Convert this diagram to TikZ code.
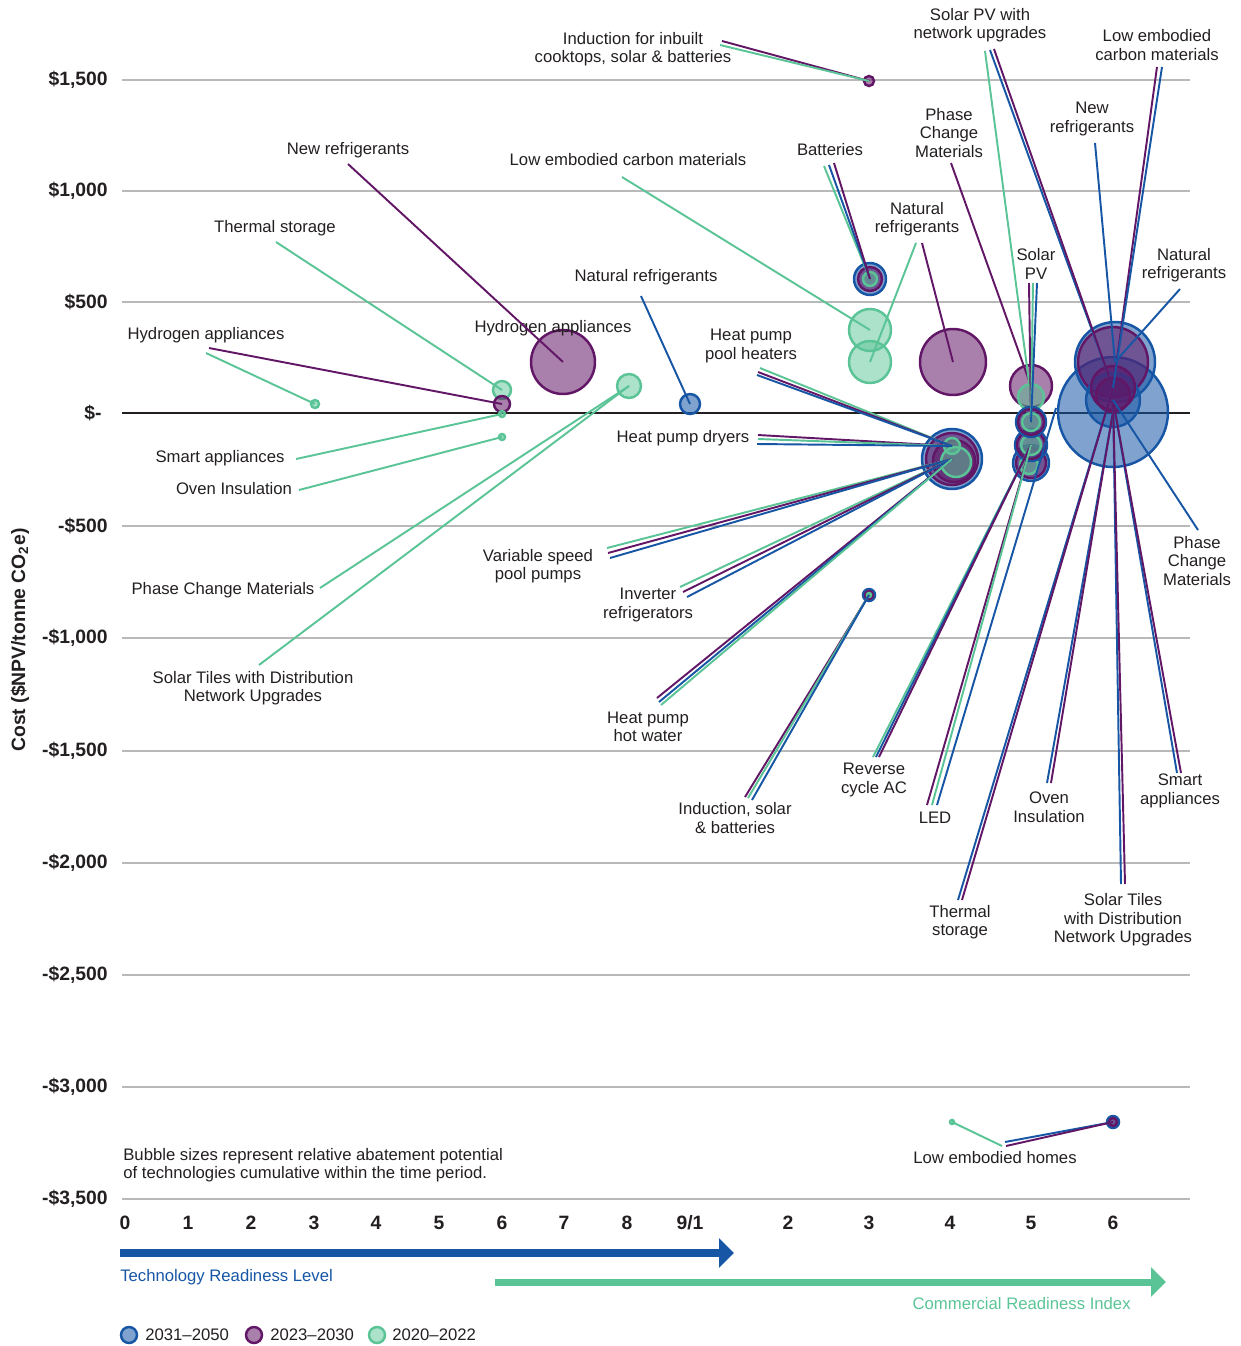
\documentclass[tikz,border=0pt]{standalone}
\usepackage{fontspec}
\setmainfont{Liberation Sans}
\usetikzlibrary{arrows.meta}
\definecolor{blueO}{RGB}{22,86,165}
\definecolor{purpO}{RGB}{98,22,102}
\definecolor{greenO}{RGB}{90,196,150}
\definecolor{gridgrey}{RGB}{185,185,185}
\definecolor{txtgrey}{RGB}{35,31,32}
\tikzset{
  bubA/.style={circle, draw=blueO, fill=blueO, fill opacity=0.55, line width=1.4pt, inner sep=0pt, minimum size=#1*0.04cm},
  bubB/.style={circle, draw=purpO, fill=purpO, fill opacity=0.55, line width=1.4pt, inner sep=0pt, minimum size=#1*0.04cm},
  bubC/.style={circle, draw=greenO, fill=greenO, fill opacity=0.5, line width=1.4pt, inner sep=0pt, minimum size=#1*0.04cm},
  lnA/.style={draw=blueO, line width=1.1pt},
  lnB/.style={draw=purpO, line width=1.1pt},
  lnC/.style={draw=greenO, line width=1.1pt},
  lab/.style={font=\fontsize{9.5}{10.6}\selectfont, text=txtgrey, align=center, inner sep=0pt},
  ticklab/.style={font=\fontsize{11}{12}\selectfont\bfseries, text=txtgrey, inner sep=0pt},
  gridln/.style={draw=gridgrey, line width=0.8pt},
  readarrow/.style={line width=4.4pt, -{Triangle[length=0.3cm, width=0.58cm]}},
}

\begin{document}
\begin{tikzpicture}[x=0.02cm, y=-0.02cm]
  \useasboundingbox (0,0) rectangle (1241,1346);

  % grid and axes
  \foreach \y/\t in {80/{\$1,500}, 191/{\$1,000}, 302/{\$500}, 526/{-\$500}, 638/{-\$1,000},
                     751/{-\$1,500}, 863/{-\$2,000}, 975/{-\$2,500}, 1087/{-\$3,000}, 1199/{-\$3,500}} {
    \draw[gridln] (122,\y) -- (1190,\y);
    \node[ticklab, anchor=east] at (108,\y) {\t};
  }
  \coordinate (zl) at (122,413);
  \coordinate (zr) at (1190,413);
  \draw[line width=0.9pt, txtgrey] (zl) -- (zr);
  \node[ticklab, anchor=east] (zero) at (102,413) {\$-};
  \node[ticklab, rotate=90] (ytitle) at (20,640) {Cost (\$NPV/tonne CO\textsubscript{2}e)};

  \foreach \x/\t in {125/0, 188/1, 251/2, 314/3, 376/4, 439/5, 502/6, 564/7, 627/8, 690/{9/1},
                     788/2, 869/3, 950/4, 1031/5, 1113/6}
    \node[ticklab] at (\x,1223) {\t};

  % readiness arrows
  \coordinate (trl0) at (120,1253);
  \coordinate (trl1) at (734,1253);
  \coordinate (cri0) at (495,1282);
  \coordinate (cri1) at (1166,1282);
  \draw[readarrow, blueO] (trl0) -- (trl1);
  \draw[readarrow, greenO, line width=4pt] (cri0) -- (cri1);
  \node[lab, text=blueO, anchor=west] (trl) at (120,1277) {Technology Readiness Level};
  \node[lab, text=greenO, anchor=east] (cri) at (1131,1304) {Commercial Readiness Index};

  % legend
  \node[bubA=8] (legA) at (129,1335) {};
  \node[lab, anchor=west] at (145,1335) {2031–2050};
  \node[bubB=8] (legB) at (254,1335) {};
  \node[lab, anchor=west] at (270,1335) {2023–2030};
  \node[bubC=8] (legC) at (377,1335) {};
  \node[lab, anchor=west] at (392,1335) {2020–2022};

  \node[lab, align=left, anchor=west] (note) at (123,1165)
    {Bubble sizes represent relative abatement potential\\of technologies cumulative within the time period.};

  % bubbles
  \node[bubB=5] (indtop) at (869,81) {};
  \node[bubA=16] (batA) at (870,279) {};
  \node[bubB=12] (batB) at (870,279) {};
  \node[bubC=7] (batC) at (870,279) {};
  \node[bubC=21] (lecmC) at (870,330) {};
  \node[bubC=21] (natrC) at (870,362) {};
  \node[bubB=33] (natrB) at (953,362) {};
  \node[bubB=32] (newrB) at (563,362) {};
  \node[bubC=12] (pcmC) at (629,386) {};
  \node[bubA=10] (natrA) at (690,404) {};
  \node[bubC=9] (therC) at (502,390) {};
  \node[bubB=8] (hydB) at (502,404) {};
  \node[bubC=3] (smartC) at (502,414) {};
  \node[bubC=3] (ovenC) at (502,437) {};
  \node[bubC=4] (hydC) at (315,404) {};

  \node[bubA=30] (hpA) at (952,459) {};
  \node[bubB=26] (hpB) at (952,459) {};
  \node[bubB=21] (hpB2) at (954,461) {};
  \node[bubC=15] (hpC) at (956,462) {};
  \node[bubC=8] (hpC2) at (952,446) {};

  \node[bubB=21] (pcmB) at (1031,386) {};
  \node[bubC=13] (spvC) at (1031,397) {};
  \node[bubA=18] (c5A3) at (1031,463) {};
  \node[bubB=15] (c5B3) at (1031,463) {};
  \node[bubC=9] (c5C3) at (1029,465) {};
  \node[bubA=16] (c5A2) at (1031,445) {};
  \node[bubB=14] (c5B2) at (1031,445) {};
  \node[bubC=10] (c5C2) at (1031,445) {};
  \node[bubA=15] (c5A1) at (1031,422) {};
  \node[bubB=13] (c5B1) at (1031,422) {};
  \node[bubC=9] (c5C1) at (1031,422) {};

  \node[bubA=55] (stileA) at (1113,412) {};
  \node[bubA=40] (c6A1) at (1115,362) {};
  \node[bubB=35] (c6B1) at (1113,362) {};
  \node[bubA=27] (c6A2) at (1113,400) {};
  \node[bubB=22] (c6B2) at (1113,388) {};
  \node[bubB=17] (c6B3) at (1113,395) {};

  \node[bubA=6] (isbA) at (869,595) {};
  \node[bubB=4] (isbB) at (869,595) {};
  \node[bubC=2] (isbC) at (869,595) {};

  \node[bubA=6] (lehA) at (1113,1122) {};
  \node[bubB=4] (lehB) at (1113,1122) {};
  \node[bubC=2] (lehC) at (952,1122) {};
  \coordinate (ledend) at (1056,408);

  % labels
  \node[lab] (indlab) at (633,49) {Induction for inbuilt\\cooktops, solar \& batteries};
  \node[lab] (newrl) at (348,150) {New refrigerants};
  \node[lab] (lecml) at (628,160) {Low embodied carbon materials};
  \node[lab] (therl) at (275,228) {Thermal storage};
  \node[lab] (natrm) at (646,277) {Natural refrigerants};
  \node[lab] (hydl) at (206,335) {Hydrogen appliances};
  \node[lab] (hydm) at (553,328) {Hydrogen appliances};
  \node[lab] (smartl) at (220,458) {Smart appliances};
  \node[lab] (ovenl) at (234,489) {Oven Insulation};
  \node[lab] (pcml) at (223,590) {Phase Change Materials};
  \node[lab] (stilel) at (253,688) {Solar Tiles with Distribution\\Network Upgrades};
  \node[lab] (batl) at (830,150) {Batteries};
  \node[lab] (natrt) at (917,219) {Natural\\refrigerants};
  \node[lab] (pcmt) at (949,133) {Phase\\Change\\Materials};
  \node[lab] (spvn) at (980,25) {Solar PV with\\network upgrades};
  \node[lab] (lecmr) at (1157,45) {Low embodied\\carbon materials};
  \node[lab] (newrr) at (1092,119) {New\\refrigerants};
  \node[lab] (spvl) at (1036,264) {Solar\\PV};
  \node[lab] (natrr) at (1184,265) {Natural\\refrigerants};
  \node[lab] (hpph) at (751,346) {Heat pump\\pool heaters};
  \node[lab] (hpd) at (683,438) {Heat pump dryers};
  \node[lab] (vsp) at (538,566) {Variable speed\\pool pumps};
  \node[lab] (inv) at (648,605) {Inverter\\refrigerators};
  \node[lab] (hphw) at (648,727) {Heat pump\\hot water};
  \node[lab] (isb) at (735,818) {Induction, solar\\\& batteries};
  \node[lab] (rcac) at (874,780) {Reverse\\cycle AC};
  \node[lab] (led) at (935,818) {LED};
  \node[lab] (therr) at (960,922) {Thermal\\storage};
  \node[lab] (ovenr) at (1049,807) {Oven\\Insulation};
  \node[lab] (stiler) at (1123,920) {Solar Tiles\\with Distribution\\Network Upgrades};
  \node[lab] (smartr) at (1180,791) {Smart\\appliances};
  \node[lab] (pcmr) at (1197,561) {Phase\\Change\\Materials};
  \node[lab] (leh) at (995,1158) {Low embodied homes};

  % leader ends at the labels
  \coordinate (indtB) at (722,41);   \coordinate (indtC) at (720,45);
  \coordinate (newrlS) at (348,164);
  \coordinate (therlS) at (276,242);
  \coordinate (lecmlS) at (622,177);
  \coordinate (natrmS) at (641,296);
  \coordinate (hydlB) at (209,348);  \coordinate (hydlC) at (206,353);
  \coordinate (smartlS) at (296,459);
  \coordinate (ovenlS) at (299,490);
  \coordinate (pcmlS) at (320,588);
  \coordinate (stilelS) at (259,665);
  \coordinate (batlC) at (824,166);  \coordinate (batlA) at (829,165);  \coordinate (batlB) at (834,163);
  \coordinate (natrtC) at (916,243); \coordinate (natrtB) at (922,243);
  \coordinate (pcmtB) at (951,163);
  \coordinate (spvnC) at (985,51);   \coordinate (spvnA) at (990,50);   \coordinate (spvnB) at (994,49);
  \coordinate (lecmrB) at (1157,67); \coordinate (lecmrA) at (1162,67);
  \coordinate (newrrA) at (1095,143);
  \coordinate (spvB) at (1029,283);  \coordinate (spvC2) at (1033,283); \coordinate (spvA) at (1037,283);
  \coordinate (natrrA) at (1180,289);
  \coordinate (hpphC) at (760,368);  \coordinate (hpphB) at (758,372);  \coordinate (hpphA) at (757,375);
  \coordinate (hpdB) at (758,435);   \coordinate (hpdC) at (758,439);   \coordinate (hpdA) at (757,444);
  \coordinate (vspC) at (607,548);   \coordinate (vspB) at (608,553);   \coordinate (vspA) at (610,558);
  \coordinate (invC) at (680,587);   \coordinate (invB) at (683,592);   \coordinate (invA) at (687,597);
  \coordinate (hphwB) at (657,698);  \coordinate (hphwA) at (659,702);  \coordinate (hphwC) at (661,705);
  \coordinate (isbBs) at (745,797);  \coordinate (isbCs) at (748,798);  \coordinate (isbAs) at (752,800);
  \coordinate (rcacC) at (873,757);  \coordinate (rcacA) at (876,757);  \coordinate (rcacB) at (879,757);
  \coordinate (ledB) at (927,805);   \coordinate (ledC) at (932,805);   \coordinate (ledA) at (937,805);
  \coordinate (therrA) at (958,900); \coordinate (therrB) at (962,900);
  \coordinate (ovenrA) at (1047,783); \coordinate (ovenrB) at (1051,783);
  \coordinate (stilerA) at (1121,884); \coordinate (stilerB) at (1125,884);
  \coordinate (smartrA) at (1177,773); \coordinate (smartrB) at (1181,773);
  \coordinate (pcmrA) at (1198,530);
  \coordinate (lehCs) at (1002,1146); \coordinate (lehAs) at (1005,1142); \coordinate (lehBs) at (1006,1146);

  % leaders
  \draw[lnB] (indtB) -- (indtop.center);
  \draw[lnC] (indtC) -- (indtop.center);
  \draw[lnB] (newrlS) -- (newrB.center);
  \draw[lnC] (therlS) -- (therC.center);
  \draw[lnC] (lecmlS) -- (lecmC.center);
  \draw[lnA] (natrmS) -- (natrA.center);
  \draw[lnB] (hydlB) -- (hydB.center);
  \draw[lnC] (hydlC) -- (hydC.center);
  \draw[lnC] (smartlS) -- (smartC.center);
  \draw[lnC] (ovenlS) -- (ovenC.center);
  \draw[lnC] (pcmlS) -- (pcmC.center);
  \draw[lnC] (stilelS) -- (pcmC.center);
  \draw[lnC] (batlC) -- (batC.center);
  \draw[lnA] (batlA) -- (batC.center);
  \draw[lnB] (batlB) -- (batC.center);
  \draw[lnC] (natrtC) -- (natrC.center);
  \draw[lnB] (natrtB) -- (natrB.center);
  \draw[lnB] (pcmtB) -- (pcmB.center);
  \draw[lnC] (spvnC) -- (spvC.center);
  \draw[lnA] (spvnA) -- (c6B2.center);
  \draw[lnB] (spvnB) -- (c6B2.center);
  \draw[lnB] (lecmrB) -- (c6B2.center);
  \draw[lnA] (lecmrA) -- (c6B2.center);
  \draw[lnA] (newrrA) -- (c6A1.center);
  \draw[lnB] (spvB) -- (c5C1.center);
  \draw[lnC] (spvC2) -- (c5C1.center);
  \draw[lnA] (spvA) -- (c5C1.center);
  \draw[lnA] (natrrA) -- (c6A1.center);
  \draw[lnC] (hpphC) -- (hpC2.center);
  \draw[lnB] (hpphB) -- (hpC2.center);
  \draw[lnA] (hpphA) -- (hpC2.center);
  \draw[lnB] (hpdB) -- (hpC2.center);
  \draw[lnC] (hpdC) -- (hpC2.center);
  \draw[lnA] (hpdA) -- (hpC2.center);
  \draw[lnC] (vspC) -- (hpA.center);
  \draw[lnB] (vspB) -- (hpA.center);
  \draw[lnA] (vspA) -- (hpA.center);
  \draw[lnC] (invC) -- (hpA.center);
  \draw[lnB] (invB) -- (hpA.center);
  \draw[lnA] (invA) -- (hpA.center);
  \draw[lnB] (hphwB) -- (hpA.center);
  \draw[lnA] (hphwA) -- (hpA.center);
  \draw[lnC] (hphwC) -- (hpA.center);
  \draw[lnB] (isbBs) -- (isbA.center);
  \draw[lnC] (isbCs) -- (isbA.center);
  \draw[lnA] (isbAs) -- (isbA.center);
  \draw[lnC] (rcacC) -- (c5C2.center);
  \draw[lnA] (rcacA) -- (c5C2.center);
  \draw[lnB] (rcacB) -- (c5C2.center);
  \draw[lnB] (ledB) -- (c5C2.center);
  \draw[lnC] (ledC) -- (c5C2.center);
  \draw[lnA] (ledA) -- (ledend);
  \draw[lnA] (therrA) -- (c6B2.center);
  \draw[lnB] (therrB) -- (c6B2.center);
  \draw[lnA] (ovenrA) -- (stileA.center);
  \draw[lnB] (ovenrB) -- (stileA.center);
  \draw[lnA] (stilerA) -- (c6A2.center);
  \draw[lnB] (stilerB) -- (c6A2.center);
  \draw[lnA] (smartrA) -- (c6A2.center);
  \draw[lnB] (smartrB) -- (c6A2.center);
  \draw[lnA] (pcmrA) -- (c6A2.center);
  \draw[lnC] (lehCs) -- (lehC.center);
  \draw[lnA] (lehAs) -- (lehA.center);
  \draw[lnB] (lehBs) -- (lehA.center);
\end{tikzpicture}
\end{document}
